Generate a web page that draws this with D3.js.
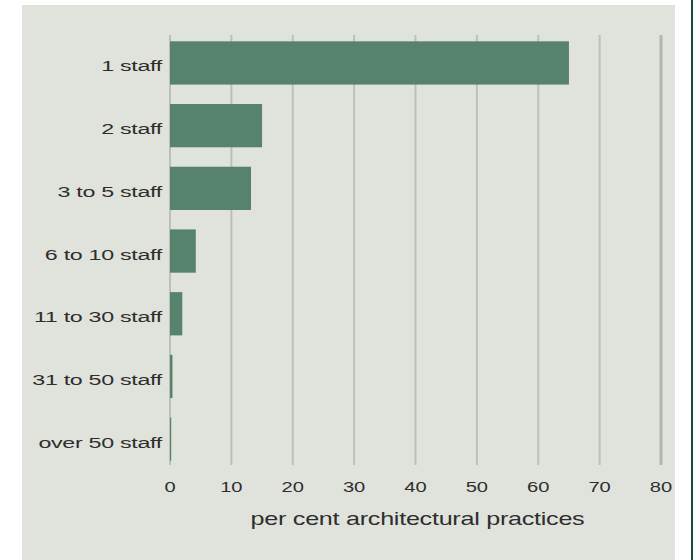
<!DOCTYPE html>
<html>
<head>
<meta charset="utf-8">
<script src="https://cdn.jsdelivr.net/npm/d3@7"></script>
<style>
	body { margin: 0; background: #fff; }
	svg { display: block; }
	text { font-family: "Liberation Sans", Arial, sans-serif; fill: #2e2e2e; }
</style>
</head>
<body>
<svg width="695" height="560"></svg>
<script>
var categories = ['1 staff', '2 staff', '3 to 5 staff', '6 to 10 staff', '11 to 30 staff', '31 to 50 staff', 'over 50 staff'];
var values = [65, 15, 13.2, 4.2, 2, 0.4, 0.2];
var tick_values = [0, 10, 20, 30, 40, 50, 60, 70, 80];
var axis_title = 'per cent architectural practices';

var svg = d3.select('svg');

// Panel
svg.append('rect')
	.attr('x', 22).attr('y', 5)
	.attr('width', 653).attr('height', 560)
	.attr('fill', '#e0e3dc');
svg.append('line')
	.attr('x1', 692).attr('x2', 692)
	.attr('y1', 0).attr('y2', 560)
	.attr('stroke', '#1d4a33').attr('stroke-width', 2);

var x = d3.scaleLinear().domain([0, 80]).range([170, 661]);
var y = d3.scaleBand().domain(categories).range([31.6, 470.5]).paddingInner(0.31).paddingOuter(0.155);

// Grid
svg.append('g').selectAll('line')
	.data(tick_values)
	.enter().append('line')
	.attr('x1', d => x(d)).attr('x2', d => x(d))
	.attr('y1', 35).attr('y2', 465)
	.attr('stroke', d => d === 80 ? '#b3b5b1' : '#bdbfbb')
	.attr('stroke-width', d => d === 80 ? 3 : 2);

// Bars
svg.append('g').selectAll('rect')
	.data(values)
	.enter().append('rect')
	.attr('x', x(0))
	.attr('y', (d, i) => y(categories[i]))
	.attr('width', d => x(d) - x(0))
	.attr('height', y.bandwidth())
	.attr('fill', '#57826d');

// Category labels (glyphs are wide in the original, so stretch horizontally)
svg.append('g').selectAll('text')
	.data(categories)
	.enter().append('text')
	.attr('transform', d => 'translate(162,' + (y(d) + y.bandwidth() / 2 + 3) + ') scale(1.5,1)')
	.attr('text-anchor', 'end')
	.attr('dominant-baseline', 'central')
	.style('font-size', '15.5px')
	.style('letter-spacing', '-0.2px')
	.text(d => d);

// Tick labels
svg.append('g').selectAll('text')
	.data(tick_values)
	.enter().append('text')
	.attr('transform', d => 'translate(' + x(d) + ',487) scale(1.3,1)')
	.attr('text-anchor', 'middle')
	.attr('dominant-baseline', 'central')
	.style('font-size', '15.5px')
	.text(d => d);

svg.append('text')
	.attr('transform', 'translate(' + ((x(0) + x(80)) / 2 + 2) + ',519) scale(1.4,1)')
	.attr('text-anchor', 'middle')
	.attr('dominant-baseline', 'central')
	.style('font-size', '18px')
	.style('letter-spacing', '-0.2px')
	.text(axis_title);
</script>
</body>
</html>
